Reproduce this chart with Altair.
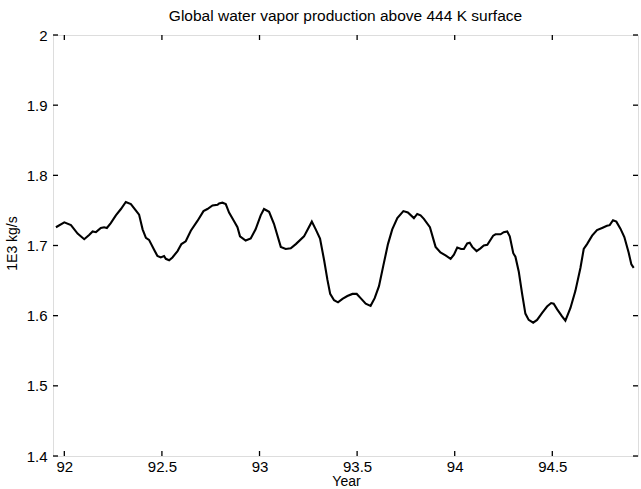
import altair as alt
import pandas as pd

# Global water vapor production above the 444 K surface (1E3 kg/s)
year = [
    91.957, 92.000, 92.034, 92.068, 92.102, 92.127, 92.145, 92.162, 92.187, 92.204,
    92.218, 92.238, 92.264, 92.290, 92.315, 92.341, 92.366, 92.383, 92.401, 92.418,
    92.434, 92.460, 92.477, 92.494, 92.511, 92.520, 92.537, 92.554, 92.580, 92.600,
    92.622, 92.648, 92.682, 92.713, 92.733, 92.759, 92.785, 92.793, 92.810, 92.827,
    92.844, 92.869, 92.887, 92.900, 92.929, 92.955, 92.980, 93.006, 93.023, 93.049,
    93.074, 93.109, 93.134, 93.160, 93.186, 93.228, 93.268, 93.288, 93.310, 93.331,
    93.348, 93.362, 93.382, 93.402, 93.425, 93.450, 93.476, 93.498, 93.518, 93.544,
    93.569, 93.590, 93.612, 93.634, 93.658, 93.680, 93.706, 93.737, 93.760, 93.791,
    93.808, 93.825, 93.842, 93.873, 93.902, 93.927, 93.953, 93.979, 93.996, 94.013,
    94.033, 94.047, 94.064, 94.077, 94.090, 94.112, 94.132, 94.149, 94.167, 94.197,
    94.209, 94.235, 94.251, 94.269, 94.282, 94.300, 94.311, 94.328, 94.346, 94.362,
    94.379, 94.402, 94.422, 94.448, 94.473, 94.494, 94.507, 94.525, 94.550, 94.567,
    94.593, 94.618, 94.644, 94.661, 94.678, 94.704, 94.729, 94.755, 94.780, 94.794,
    94.811, 94.828, 94.849, 94.869, 94.891, 94.905, 94.917,
]
production = [
    1.726, 1.733, 1.729, 1.717, 1.709, 1.715, 1.720, 1.719, 1.725, 1.726,
    1.725, 1.732, 1.743, 1.752, 1.762, 1.759, 1.750, 1.744, 1.723, 1.711,
    1.708, 1.694, 1.685, 1.683, 1.685, 1.681, 1.679, 1.683, 1.692, 1.702,
    1.706, 1.721, 1.735, 1.749, 1.752, 1.757, 1.758, 1.760, 1.761, 1.759,
    1.747, 1.735, 1.726, 1.713, 1.707, 1.710, 1.723, 1.743, 1.752, 1.748,
    1.731, 1.698, 1.695, 1.696, 1.702, 1.713, 1.734, 1.723, 1.710, 1.679,
    1.651, 1.631, 1.622, 1.619, 1.624, 1.628, 1.631, 1.631, 1.625, 1.617,
    1.614, 1.625, 1.642, 1.671, 1.702, 1.723, 1.739, 1.749, 1.747, 1.739,
    1.745, 1.743, 1.738, 1.726, 1.698, 1.690, 1.686, 1.681, 1.687, 1.697,
    1.695, 1.695, 1.703, 1.704, 1.698, 1.692, 1.696, 1.700, 1.701, 1.714,
    1.716, 1.716, 1.719, 1.720, 1.713, 1.689, 1.684, 1.663, 1.630, 1.603,
    1.594, 1.590, 1.594, 1.604, 1.613, 1.618, 1.617, 1.609, 1.599, 1.593,
    1.611, 1.635, 1.668, 1.695, 1.702, 1.714, 1.722, 1.725, 1.728, 1.729,
    1.736, 1.734, 1.724, 1.712, 1.690, 1.673, 1.668,
]

x_ticks = [92, 92.5, 93, 93.5, 94, 94.5]
y_ticks = [1.4, 1.5, 1.6, 1.7, 1.8, 1.9, 2.0]
x_domain = [91.942, 94.939]
y_domain = [1.4, 2.0]

W, H = 585, 421
TICK = 5
FONT = "Liberation Sans"

df = pd.DataFrame({"year": year, "production": production})
xt = pd.DataFrame({"t": x_ticks})
yt = pd.DataFrame({"t": y_ticks})

x_scale = alt.Scale(domain=x_domain, nice=False, zero=False)
y_scale = alt.Scale(domain=y_domain, nice=False, zero=False)

line = alt.Chart(df).mark_line(color="black", strokeWidth=2.1).encode(
    x=alt.X(
        "year:Q",
        scale=x_scale,
        axis=alt.Axis(
            title="Year",
            values=x_ticks,
            format=".1~f",
            ticks=False,
            domain=False,
            grid=False,
            labelPadding=3,
            labelFontSize=15,
            labelFont=FONT,
            labelColor="black",
            titleFontSize=14,
            titleFont=FONT,
            titleFontWeight="normal",
            titleColor="black",
            titleX=293,
            titleY=18,
            titleBaseline="top",
        ),
    ),
    y=alt.Y(
        "production:Q",
        scale=y_scale,
        axis=alt.Axis(
            title="1E3 kg/s",
            values=y_ticks,
            format=".2~f",
            ticks=False,
            domain=False,
            grid=False,
            labelPadding=6,
            labelFontSize=15,
            labelFont=FONT,
            labelColor="black",
            titleFontSize=14,
            titleFont=FONT,
            titleFontWeight="normal",
            titleColor="black",
            titleX=-34,
            titleY=208,
            titleBaseline="bottom",
        ),
    ),
)

tick_style = dict(color="black", strokeWidth=1.3)

bottom_ticks = alt.Chart(xt).mark_rule(**tick_style).encode(
    x=alt.X("t:Q", scale=x_scale), y=alt.value(H), y2=alt.value(H - TICK)
)
top_ticks = alt.Chart(xt).mark_rule(**tick_style).encode(
    x=alt.X("t:Q", scale=x_scale), y=alt.value(0), y2=alt.value(TICK)
)
left_ticks = alt.Chart(yt).mark_rule(**tick_style).encode(
    y=alt.Y("t:Q", scale=y_scale), x=alt.value(0), x2=alt.value(TICK)
)
right_ticks = alt.Chart(yt).mark_rule(**tick_style).encode(
    y=alt.Y("t:Q", scale=y_scale), x=alt.value(W), x2=alt.value(W - TICK)
)

chart = (
    alt.layer(line, bottom_ticks, top_ticks, left_ticks, right_ticks)
    .properties(
        width=W,
        height=H,
        title=alt.TitleParams(
            "Global water vapor production above 444 K surface",
            font=FONT,
            fontSize=15.5,
            fontWeight="normal",
            color="black",
            anchor="middle",
            offset=4,
        ),
        autosize=alt.AutoSizeParams(type="none"),
        padding={"left": 53, "top": 35, "right": 3, "bottom": 33},
    )
    .configure_view(stroke="black", strokeWidth=1.5)
    .configure(background="white")
)

chart.save("out.html", embed_options={"renderer": "svg", "actions": False})
